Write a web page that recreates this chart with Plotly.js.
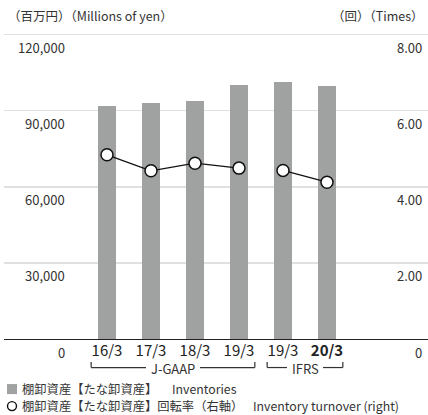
<!DOCTYPE html>
<html>
<head>
<meta charset="utf-8">
<script src="https://cdn.plot.ly/plotly-3.0.1.min.js"></script>
<style>html,body{margin:0;padding:0;background:#fff;}#chart{width:428px;height:415px;}</style>
</head>
<body>
<div id="chart"></div>
<script>
// ---- data ----
var categories = ["16/3", "17/3", "18/3", "19/3", "19/3", "<b>20/3</b>"];
var inventories = [92000, 93200, 94000, 100300, 101100, 99900];      // Millions of yen
var turnover = [4.84, 4.42, 4.62, 4.49, 4.43, 4.12];                 // Times (right axis)
var standardGroups = [[0, 1, 2, 3], [4, 5]];                          // J-GAAP, IFRS
var groupLabels = ["J-GAAP", "IFRS"];
var leftTicks = [0, 30000, 60000, 90000, 120000];
var leftTickText = ["0", "30,000", "60,000", "90,000", "120,000"];
var rightTicks = [0, 2, 4, 6, 8];
var rightTickText = ["0", "2.00", "4.00", "6.00", "8.00"];

// ---- layout geometry ----
var headroom = 121 / 120; // axis range extends slightly above the top tick so its gridline is drawn
var W = 428, H = 415, mL = 4, mR = 0, mB = 76;
var mT = (H - mB) - (H - mB - 35) * headroom;
var pw = W - mL - mR, ph = H - mT - mB;
function px(x) { return (x - mL) / pw; }
function py(y) { return (H - mB - y) / ph; }
var font = "'Noto Sans CJK JP', 'Noto Sans', sans-serif";
var txt = "#333";
var slot = 44; // pixels per category

var xs = categories.map(function (_, i) { return i; });

var traces = [{
  type: "bar", x: xs, y: inventories, width: 0.41,
  marker: { color: "#a0a1a1" }, hoverinfo: "skip", showlegend: false
}];
standardGroups.forEach(function (g) {
  traces.push({
    type: "scatter", mode: "lines+markers", yaxis: "y2",
    x: g.map(function (i) { return xs[i]; }),
    y: g.map(function (i) { return turnover[i]; }),
    line: { color: "#111", width: 1.3 },
    marker: { size: 12, color: "#fff", line: { color: "#111", width: 1.5 } },
    hoverinfo: "skip", showlegend: false, cliponaxis: false
  });
});

var annotations = [];
leftTicks.forEach(function (v, i) {
  annotations.push({ xref: "paper", yref: "y", x: px(67), y: v, xanchor: "right", yanchor: "middle",
    yshift: -13, text: leftTickText[i], showarrow: false, font: { family: font, size: 13, color: txt } });
});
rightTicks.forEach(function (v, i) {
  annotations.push({ xref: "paper", yref: "y2", x: px(424), y: v, xanchor: "right", yanchor: "middle",
    yshift: -13, text: rightTickText[i], showarrow: false, font: { family: font, size: 13, color: txt } });
});
// axis unit titles
annotations.push({ xref: "paper", yref: "paper", x: px(6), y: py(16), xanchor: "left", yanchor: "middle",
  text: "（百万円）（Millions of yen）", showarrow: false, font: { family: font, size: 12.5, color: txt } });
annotations.push({ xref: "paper", yref: "paper", x: px(426), y: py(16), xanchor: "right", yanchor: "middle",
  text: "（回）（Times）", showarrow: false, font: { family: font, size: 12.5, color: txt } });

var shapes = [];
var brY = py(367.5), brTop = py(362);
var halfGap = [27 / slot, 18 / slot];
standardGroups.forEach(function (g, k) {
  var x0 = xs[g[0]] - 0.36, x1 = xs[g[g.length - 1]] + 0.36, c = (x0 + x1) / 2;
  var ln = { color: "#333", width: 1.2 };
  shapes.push({ type: "line", xref: "x", yref: "paper", x0: x0, x1: c - halfGap[k], y0: brY, y1: brY, line: ln });
  shapes.push({ type: "line", xref: "x", yref: "paper", x0: c + halfGap[k], x1: x1, y0: brY, y1: brY, line: ln });
  shapes.push({ type: "line", xref: "x", yref: "paper", x0: x0, x1: x0, y0: brY, y1: brTop, line: ln });
  shapes.push({ type: "line", xref: "x", yref: "paper", x0: x1, x1: x1, y0: brY, y1: brTop, line: ln });
  annotations.push({ xref: "x", yref: "paper", x: c, y: brY, xanchor: "center", yanchor: "middle",
    yshift: -0.5, text: groupLabels[k], showarrow: false, borderpad: 0,
    font: { family: font, size: 13, color: txt } });
});

// custom legend
shapes.push({ type: "rect", xref: "paper", yref: "paper", x0: px(7), x1: px(17), y0: py(384), y1: py(394),
  fillcolor: "#a0a1a1", line: { width: 0 } });
shapes.push({ type: "circle", xref: "paper", yref: "paper", x0: px(7.5), x1: px(16.5), y0: py(401.5), y1: py(410.5),
  fillcolor: "#fff", line: { color: "#111", width: 1.4 } });
annotations.push({ xref: "paper", yref: "paper", x: px(20), y: py(389), xanchor: "left", yanchor: "middle",
  text: "棚卸資産【たな卸資産】", showarrow: false, font: { family: font, size: 12.3, color: txt } });
annotations.push({ xref: "paper", yref: "paper", x: px(170), y: py(389), xanchor: "left", yanchor: "middle",
  text: "Inventories", showarrow: false, font: { family: font, size: 12.3, color: txt } });
annotations.push({ xref: "paper", yref: "paper", x: px(20), y: py(406), xanchor: "left", yanchor: "middle",
  text: "棚卸資産【たな卸資産】回転率（右軸）", showarrow: false, font: { family: font, size: 12.3, color: txt } });
annotations.push({ xref: "paper", yref: "paper", x: px(251), y: py(406), xanchor: "left", yanchor: "middle",
  text: "Inventory turnover (right)", showarrow: false, font: { family: font, size: 12.3, color: txt } });

var layout = {
  width: W, height: H,
  margin: { l: mL, r: mR, t: mT, b: mB, pad: 0 },
  paper_bgcolor: "#fff", plot_bgcolor: "#fff",
  showlegend: false,
  bargap: 0,
  xaxis: {
    range: [-(107 - mL) / slot, (W - mR - 107) / slot],
    tickvals: xs, ticktext: categories, ticks: "", ticklabelstandoff: -2,
    tickfont: { family: font, size: 15, color: "#222" },
    showgrid: false, zeroline: false, showline: true, linecolor: "#222", linewidth: 1.4,
    fixedrange: true
  },
  yaxis: {
    range: [0, 120000 * headroom], tickvals: leftTicks, showticklabels: false, ticks: "",
    showgrid: true, gridcolor: "#e0e0e0", gridwidth: 1.5, zeroline: false, fixedrange: true
  },
  yaxis2: {
    overlaying: "y", side: "right", range: [0, 8 * headroom], tickvals: rightTicks, showticklabels: false,
    ticks: "", showgrid: false, zeroline: false, fixedrange: true
  },
  shapes: shapes,
  annotations: annotations
};

Plotly.newPlot("chart", traces, layout, { staticPlot: true, displayModeBar: false });
</script>
</body>
</html>
